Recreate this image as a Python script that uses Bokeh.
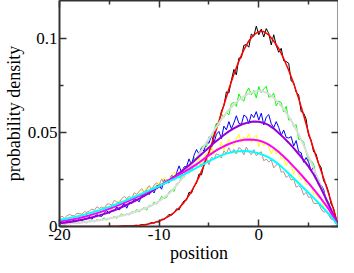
from bokeh.plotting import figure
from bokeh.models import LinearAxis, FixedTicker, Range1d, NumeralTickFormatter, Grid
from bokeh.embed import file_html
from bokeh.resources import INLINE

# ---------------- data ----------------
X_SMOOTH = [-20 + 0.5 * i for i in range(57)]
X_NOISY = [-20 + 0.25 * i for i in range(113)]
X_BLACK = X_NOISY[24:]

RED = [0.0000, 0.0000, 0.0000, 0.0000, 0.0000, 0.0000, 0.0000, 0.0000, 0.0000, 0.0000,
       0.0001, 0.0001, 0.0001, 0.0002, 0.0003, 0.0004, 0.0006, 0.0009, 0.0014, 0.0020,
       0.0029, 0.0040, 0.0055, 0.0074, 0.0098, 0.0128, 0.0165, 0.0210, 0.0262, 0.0325,
       0.0395, 0.0475, 0.0560, 0.0645, 0.0730, 0.0808, 0.0878, 0.0938, 0.0985, 0.1018,
       0.1035, 0.1035, 0.1017, 0.0985, 0.0945, 0.0892, 0.0830, 0.0760, 0.0680, 0.0592,
       0.0495, 0.0412, 0.0335, 0.0258, 0.0177, 0.0090, 0.0000]

GREY = [0.0012, 0.0014, 0.0016, 0.0018, 0.0020, 0.0023, 0.0026, 0.0029, 0.0033, 0.0037,
        0.0042, 0.0048, 0.0054, 0.0061, 0.0068, 0.0076, 0.0085, 0.0094, 0.0105, 0.0119,
        0.0135, 0.0154, 0.0175, 0.0203, 0.0235, 0.0269, 0.0305, 0.0344, 0.0385, 0.0425,
        0.0465, 0.0508, 0.0550, 0.0587, 0.0620, 0.0648, 0.0672, 0.0691, 0.0705, 0.0715,
        0.0720, 0.0716, 0.0705, 0.0682, 0.0655, 0.0623, 0.0585, 0.0540, 0.0490, 0.0432,
        0.0370, 0.0310, 0.0245, 0.0178, 0.0115, 0.0055, 0.0000]

VIOLET = [0.0017, 0.0020, 0.0024, 0.0028, 0.0033, 0.0039, 0.0045, 0.0052, 0.0059, 0.0067,
          0.0076, 0.0086, 0.0097, 0.0109, 0.0121, 0.0134, 0.0148, 0.0163, 0.0178, 0.0195,
          0.0212, 0.0228, 0.0245, 0.0264, 0.0283, 0.0304, 0.0325, 0.0348, 0.0372, 0.0396,
          0.0420, 0.0443, 0.0465, 0.0486, 0.0505, 0.0521, 0.0535, 0.0546, 0.0553, 0.0557,
          0.0556, 0.0550, 0.0538, 0.0520, 0.0497, 0.0472, 0.0445, 0.0416, 0.0385, 0.0352,
          0.0318, 0.0277, 0.0228, 0.0175, 0.0118, 0.0060, 0.0000]

MAGENTA = [0.0026, 0.0030, 0.0035, 0.0040, 0.0045, 0.0052, 0.0059, 0.0067, 0.0075, 0.0084,
           0.0094, 0.0104, 0.0115, 0.0126, 0.0138, 0.0150, 0.0163, 0.0175, 0.0188, 0.0201,
           0.0215, 0.0230, 0.0245, 0.0260, 0.0275, 0.0290, 0.0305, 0.0322, 0.0340, 0.0359,
           0.0378, 0.0396, 0.0412, 0.0426, 0.0438, 0.0448, 0.0455, 0.0460, 0.0462, 0.0461,
           0.0457, 0.0448, 0.0435, 0.0417, 0.0396, 0.0372, 0.0346, 0.0318, 0.0290, 0.0260,
           0.0230, 0.0198, 0.0165, 0.0130, 0.0094, 0.0050, 0.0000]

CYAN = [0.0036, 0.0040, 0.0045, 0.0050, 0.0056, 0.0063, 0.0070, 0.0078, 0.0086, 0.0095,
        0.0104, 0.0114, 0.0124, 0.0135, 0.0146, 0.0157, 0.0168, 0.0180, 0.0192, 0.0203,
        0.0215, 0.0228, 0.0240, 0.0252, 0.0264, 0.0277, 0.0290, 0.0304, 0.0319, 0.0333,
        0.0347, 0.0360, 0.0372, 0.0383, 0.0391, 0.0397, 0.0400, 0.0401, 0.0399, 0.0395,
        0.0388, 0.0379, 0.0367, 0.0350, 0.0330, 0.0306, 0.0281, 0.0256, 0.0230, 0.0204,
        0.0178, 0.0152, 0.0125, 0.0097, 0.0068, 0.0036, 0.0000]

BLACK = [0.0002, 0.0001, 0.0004, 0.0002, 0.0003, 0.0002, 0.0006, 0.0006, 0.0004, 0.0011,
         0.0009, 0.0009, 0.0016, 0.0021, 0.0018, 0.0026, 0.0023, 0.0039, 0.0038, 0.0051,
         0.0064, 0.0060, 0.0073, 0.0094, 0.0088, 0.0117, 0.0136, 0.0140, 0.0182, 0.0177,
         0.0214, 0.0230, 0.0279, 0.0274, 0.0327, 0.0375, 0.0390, 0.0416, 0.0486, 0.0544,
         0.0545, 0.0612, 0.0642, 0.0715, 0.0709, 0.0776, 0.0834, 0.0805, 0.0894, 0.0896,
         0.0962, 0.0966, 0.0952, 0.1022, 0.1010, 0.1064, 0.1018, 0.1048, 0.1006, 0.1051,
         0.1025, 0.0964, 0.1018, 0.0961, 0.0925, 0.0946, 0.0880, 0.0876, 0.0867, 0.0773,
         0.0764, 0.0713, 0.0700, 0.0610, 0.0602, 0.0571, 0.0483, 0.0459, 0.0396, 0.0386,
         0.0333, 0.0314, 0.0243, 0.0223, 0.0184, 0.0120, 0.0097, 0.0043, 0.0000]

GREEN = [0.0015, 0.0014, 0.0010, 0.0018, 0.0015, 0.0022, 0.0016, 0.0021, 0.0016, 0.0025,
         0.0024, 0.0018, 0.0032, 0.0027, 0.0025, 0.0037, 0.0031, 0.0038, 0.0046, 0.0034,
         0.0043, 0.0043, 0.0054, 0.0043, 0.0057, 0.0067, 0.0057, 0.0067, 0.0061, 0.0078,
         0.0075, 0.0091, 0.0076, 0.0093, 0.0100, 0.0087, 0.0113, 0.0109, 0.0130, 0.0119,
         0.0137, 0.0160, 0.0149, 0.0154, 0.0185, 0.0193, 0.0187, 0.0227, 0.0233, 0.0267,
         0.0260, 0.0301, 0.0283, 0.0332, 0.0365, 0.0359, 0.0372, 0.0422, 0.0428, 0.0424,
         0.0477, 0.0477, 0.0508, 0.0548, 0.0537, 0.0598, 0.0580, 0.0607, 0.0592, 0.0652,
         0.0659, 0.0638, 0.0704, 0.0678, 0.0665, 0.0713, 0.0735, 0.0699, 0.0722, 0.0683,
         0.0743, 0.0710, 0.0731, 0.0744, 0.0687, 0.0690, 0.0708, 0.0640, 0.0666, 0.0657,
         0.0609, 0.0638, 0.0565, 0.0569, 0.0530, 0.0541, 0.0462, 0.0464, 0.0449, 0.0395,
         0.0351, 0.0350, 0.0332, 0.0266, 0.0252, 0.0210, 0.0193, 0.0136, 0.0118, 0.0094,
         0.0045, 0.0030, 0.0000]

BLUE = [0.0023, 0.0015, 0.0019, 0.0028, 0.0018, 0.0029, 0.0033, 0.0027, 0.0043, 0.0030,
        0.0041, 0.0039, 0.0054, 0.0038, 0.0053, 0.0063, 0.0056, 0.0054, 0.0073, 0.0084,
        0.0069, 0.0086, 0.0084, 0.0104, 0.0087, 0.0106, 0.0122, 0.0097, 0.0129, 0.0122,
        0.0146, 0.0143, 0.0131, 0.0166, 0.0159, 0.0190, 0.0169, 0.0193, 0.0178, 0.0218,
        0.0217, 0.0198, 0.0249, 0.0234, 0.0232, 0.0273, 0.0256, 0.0285, 0.0322, 0.0286,
        0.0317, 0.0318, 0.0359, 0.0327, 0.0378, 0.0409, 0.0384, 0.0416, 0.0401, 0.0450,
        0.0442, 0.0484, 0.0443, 0.0490, 0.0505, 0.0467, 0.0533, 0.0513, 0.0557, 0.0519,
        0.0550, 0.0588, 0.0548, 0.0542, 0.0591, 0.0583, 0.0546, 0.0596, 0.0578, 0.0610,
        0.0565, 0.0602, 0.0539, 0.0581, 0.0594, 0.0546, 0.0525, 0.0557, 0.0526, 0.0484,
        0.0512, 0.0473, 0.0470, 0.0477, 0.0427, 0.0456, 0.0398, 0.0392, 0.0341, 0.0366,
        0.0342, 0.0295, 0.0317, 0.0265, 0.0220, 0.0221, 0.0198, 0.0145, 0.0127, 0.0078,
        0.0070, 0.0028, 0.0000]

YELLOW = [0.0035, 0.0044, 0.0034, 0.0045, 0.0049, 0.0039, 0.0055, 0.0051, 0.0062, 0.0054,
          0.0063, 0.0076, 0.0065, 0.0066, 0.0083, 0.0084, 0.0075, 0.0095, 0.0093, 0.0109,
          0.0098, 0.0118, 0.0100, 0.0124, 0.0138, 0.0127, 0.0128, 0.0152, 0.0150, 0.0141,
          0.0167, 0.0161, 0.0173, 0.0190, 0.0177, 0.0210, 0.0194, 0.0207, 0.0194, 0.0229,
          0.0232, 0.0219, 0.0261, 0.0245, 0.0239, 0.0272, 0.0289, 0.0270, 0.0285, 0.0265,
          0.0311, 0.0297, 0.0320, 0.0343, 0.0314, 0.0333, 0.0365, 0.0332, 0.0372, 0.0388,
          0.0371, 0.0422, 0.0383, 0.0415, 0.0408, 0.0449, 0.0403, 0.0440, 0.0462, 0.0442,
          0.0431, 0.0469, 0.0489, 0.0446, 0.0475, 0.0463, 0.0493, 0.0447, 0.0472, 0.0486,
          0.0425, 0.0460, 0.0428, 0.0451, 0.0423, 0.0386, 0.0418, 0.0386, 0.0408, 0.0357,
          0.0366, 0.0324, 0.0348, 0.0322, 0.0279, 0.0310, 0.0272, 0.0248, 0.0262, 0.0223,
          0.0224, 0.0221, 0.0173, 0.0172, 0.0151, 0.0148, 0.0108, 0.0109, 0.0103, 0.0062,
          0.0049, 0.0020, 0.0000]

BROWN = [0.0045, 0.0055, 0.0045, 0.0057, 0.0064, 0.0058, 0.0057, 0.0070, 0.0069, 0.0065,
         0.0079, 0.0075, 0.0082, 0.0093, 0.0086, 0.0105, 0.0096, 0.0104, 0.0097, 0.0118,
         0.0120, 0.0113, 0.0139, 0.0130, 0.0126, 0.0148, 0.0159, 0.0148, 0.0161, 0.0149,
         0.0179, 0.0171, 0.0187, 0.0201, 0.0183, 0.0196, 0.0217, 0.0195, 0.0221, 0.0231,
         0.0219, 0.0253, 0.0228, 0.0250, 0.0246, 0.0274, 0.0245, 0.0272, 0.0289, 0.0278,
         0.0274, 0.0304, 0.0322, 0.0298, 0.0323, 0.0321, 0.0342, 0.0317, 0.0343, 0.0362,
         0.0328, 0.0368, 0.0358, 0.0386, 0.0380, 0.0363, 0.0401, 0.0387, 0.0419, 0.0389,
         0.0410, 0.0385, 0.0419, 0.0409, 0.0380, 0.0422, 0.0396, 0.0381, 0.0408, 0.0376,
         0.0388, 0.0397, 0.0349, 0.0358, 0.0342, 0.0354, 0.0311, 0.0327, 0.0332, 0.0289,
         0.0291, 0.0260, 0.0272, 0.0246, 0.0253, 0.0209, 0.0216, 0.0205, 0.0167, 0.0182,
         0.0155, 0.0157, 0.0124, 0.0122, 0.0123, 0.0093, 0.0077, 0.0079, 0.0062, 0.0039,
         0.0035, 0.0015, 0.0000]

X_TICKS = [-20, -10, 0]
X_MINOR = [-15, -5, 5]
Y_TICKS = [0, 0.05, 0.1]
Y_MINOR = [0.025, 0.075]

FONT = "Liberation Serif"
FRAME = "#333333"

p = figure(width=338, height=265, output_backend="svg", toolbar_location=None,
           x_range=Range1d(-20, 8), y_range=Range1d(0, 0.12),
           x_axis_location=None, y_axis_location=None,
           min_border_left=0, min_border_right=0, min_border_top=0, min_border_bottom=0)
p.outline_line_color = None
p.background_fill_color = "white"
p.border_fill_color = "white"


def make_axis(ticks, minor, show_labels, label=None, label_standoff=2, title_standoff=0):
    ax = LinearAxis(ticker=FixedTicker(ticks=ticks, minor_ticks=minor))
    ax.axis_line_color = FRAME
    ax.axis_line_width = 2
    ax.major_tick_in = 7
    ax.major_tick_out = 0
    ax.minor_tick_in = 4
    ax.minor_tick_out = 0
    ax.major_tick_line_color = FRAME
    ax.minor_tick_line_color = FRAME
    ax.major_tick_line_width = 1.5
    ax.minor_tick_line_width = 1.5
    if show_labels:
        ax.major_label_text_font = FONT
        ax.major_label_text_font_size = "17px"
        ax.major_label_text_color = "black"
        ax.major_label_standoff = label_standoff
        if label:
            ax.axis_label = label
            ax.axis_label_text_font = FONT
            ax.axis_label_text_font_size = "18px"
            ax.axis_label_text_font_style = "normal"
            ax.axis_label_text_color = "black"
            ax.axis_label_standoff = title_standoff
    else:
        ax.major_label_text_font_size = "1px"
        ax.major_label_text_color = None
        ax.major_label_standoff = 0
    return ax


bottom = make_axis(X_TICKS, X_MINOR, True, "position", label_standoff=2, title_standoff=0)
bottom.formatter = NumeralTickFormatter(format="0")
top = make_axis(X_TICKS, X_MINOR, False)
left = make_axis(Y_TICKS, Y_MINOR, True, "probability density", label_standoff=2, title_standoff=1)
left.formatter = NumeralTickFormatter(format="0.[00]")
right = make_axis(Y_TICKS, Y_MINOR, False)

p.add_layout(bottom, "below")
p.add_layout(top, "above")
p.add_layout(left, "left")
p.add_layout(right, "right")

for g in p.select(type=Grid):
    g.visible = False

# noisy histograms
p.line(X_BLACK, BLACK, line_color="#000000", line_width=1)
p.line(X_NOISY, GREEN, line_color="#00FF00", line_width=1)
p.line(X_NOISY, BLUE, line_color="#0000FF", line_width=1)
p.line(X_NOISY, YELLOW, line_color="#FFFF00", line_width=1)
p.line(X_NOISY, BROWN, line_color="#BC8F8F", line_width=1)

# smooth curves
p.line(X_SMOOTH, RED, line_color="#FF0000", line_width=1.5)
p.line(X_SMOOTH, GREY, line_color="#DCDCDC", line_width=2)
p.line(X_SMOOTH, VIOLET, line_color="#9400D3", line_width=2)
p.line(X_SMOOTH, MAGENTA, line_color="#FF00FF", line_width=2)
p.line(X_SMOOTH, CYAN, line_color="#00FFFF", line_width=2)

open("out.html", "w").write(file_html(p, INLINE))
